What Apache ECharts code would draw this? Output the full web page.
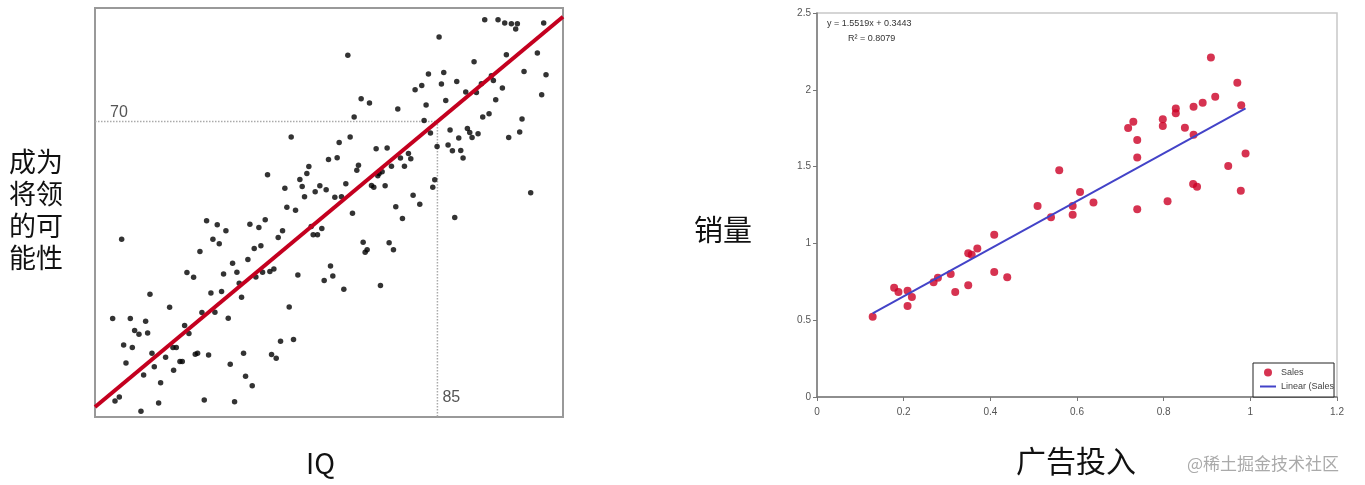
<!DOCTYPE html>
<html>
<head>
<meta charset="utf-8">
<script src="https://cdn.jsdelivr.net/npm/echarts@6/dist/echarts.min.js"></script>
<style>
  html, body { margin: 0; padding: 0; background: #fff; }
  #main { width: 1365px; height: 485px; }
</style>
</head>
<body>
<div id="main"></div>
<script>
// 左图：IQ 与 成为将领的可能性
const iqRange = [33.6, 103.85];
const probRange = [25.7, 87];
const refIQ = 85;
const refProb = 70;
const iqSlope = 0.8327; // 红色拟合线斜率，经过 (85, 70)

const iqPoints = [
  [92.1, 85.25], [94.1, 85.25], [95.1, 84.75], [96.1, 84.65], [97.0, 84.65], [96.75, 83.85],
  [100.95, 84.75], [85.25, 82.65], [71.55, 79.9], [95.35, 80.0], [100.0, 80.25], [90.5, 78.95],
  [83.65, 77.1], [85.95, 77.35], [98.0, 77.5], [101.3, 77.0], [85.6, 75.6], [87.9, 76.0],
  [82.65, 75.4], [81.65, 74.75], [91.6, 75.65], [93.4, 76.15], [93.1, 76.85], [94.75, 75.0],
  [89.25, 74.4], [90.85, 74.35], [100.65, 74.0], [86.25, 73.15], [83.3, 72.45], [93.75, 73.25],
  [73.55, 73.4], [74.8, 72.75], [79.05, 71.85], [72.5, 70.65], [83.0, 70.15], [91.8, 70.65],
  [92.75, 71.15], [97.7, 70.35], [86.9, 68.7], [89.5, 68.95], [89.85, 68.35], [91.1, 68.15],
  [90.2, 67.6], [88.2, 67.5], [95.7, 67.6], [97.35, 68.4], [83.95, 68.25], [63.05, 67.65],
  [71.9, 67.65], [70.25, 66.85], [84.95, 66.25], [86.6, 66.45], [87.25, 65.6], [88.5, 65.65],
  [88.85, 64.5], [75.8, 65.9], [77.45, 66.0], [80.65, 65.2], [81.0, 64.4], [79.45, 64.5],
  [80.05, 63.3], [78.1, 63.3], [68.65, 64.3], [69.95, 64.55], [65.7, 63.25], [65.4, 62.2],
  [64.35, 61.3], [64.7, 60.25], [59.5, 62.0], [62.1, 60.0], [67.35, 60.35], [66.65, 59.45],
  [68.3, 59.75], [71.25, 60.65], [73.15, 63.45], [72.9, 62.7], [76.25, 62.2], [76.7, 62.45],
  [76.05, 61.85], [75.1, 60.4], [75.45, 60.15], [77.15, 60.35], [84.6, 61.25], [84.3, 60.15],
  [99.0, 59.3], [65.05, 58.7], [69.6, 58.65], [70.6, 58.7], [81.35, 58.95],
  [62.4, 57.15], [63.7, 56.7], [78.75, 57.2], [82.35, 57.6], [72.25, 56.25], [87.6, 55.6],
  [79.75, 55.45], [37.6, 52.35], [50.35, 55.1], [51.95, 54.5], [53.25, 53.6], [56.85, 54.6],
  [58.2, 54.1], [59.15, 55.25], [49.35, 50.5], [51.3, 52.35], [52.25, 51.65], [57.5, 50.95],
  [58.5, 51.35], [56.55, 49.3], [61.1, 52.6], [61.75, 53.6], [66.05, 54.25], [66.35, 53.0],
  [67.0, 53.0], [67.65, 53.95], [73.85, 51.9], [74.15, 50.4], [74.45, 50.75], [77.75, 51.8],
  [78.4, 50.75], [54.25, 48.75], [54.9, 47.4], [52.9, 47.15], [47.4, 47.35], [48.4, 46.65],
  [41.85, 44.1], [44.8, 42.15], [51.0, 44.3], [52.6, 44.5], [55.25, 45.75], [55.6, 43.65],
  [57.75, 46.7], [58.75, 47.4], [59.85, 47.5], [60.45, 47.9], [64.05, 47.0], [68.95, 48.35],
  [69.3, 46.85], [68.0, 46.15], [70.95, 44.85], [76.45, 45.4], [62.75, 42.2], [49.65, 41.35],
  [51.6, 41.4], [53.6, 40.5], [36.25, 40.45], [38.9, 40.45], [41.2, 40.05], [39.55, 38.65],
  [40.2, 38.1], [41.5, 38.3], [37.9, 36.5], [39.2, 36.1], [42.15, 35.25], [44.2, 34.65],
  [45.3, 36.1], [45.8, 36.1], [47.05, 39.4], [47.7, 38.2], [38.25, 33.8], [42.5, 33.25],
  [40.9, 32.0], [45.4, 32.7], [46.35, 34.0], [46.7, 34.0], [48.65, 35.1], [49.0, 35.25],
  [50.65, 35.0], [53.9, 33.6], [55.9, 35.25], [60.1, 35.05], [60.8, 34.5], [61.45, 37.05],
  [63.4, 37.3], [43.45, 30.85], [56.2, 31.8], [57.2, 30.4], [36.6, 28.1], [37.25, 28.7],
  [40.5, 26.55], [43.15, 27.8], [50.0, 28.25], [54.55, 28.0]
];

// 右图：广告投入 与 销量
const adTicks = [0, 1.2, 0.2];
const salesTicks = [0, 2.5, 0.5];
const salesSlope = 1.5519;
const salesIntercept = 0.3443;
const salesR2 = 0.8079;

const salesPoints = [
  [0.1285, 0.523], [0.178, 0.712], [0.188, 0.684], [0.209, 0.692], [0.209, 0.592], [0.219, 0.651],
  [0.269, 0.747], [0.279, 0.777], [0.3085, 0.80], [0.319, 0.684], [0.349, 0.727], [0.349, 0.936],
  [0.357, 0.926], [0.370, 0.966], [0.409, 1.057], [0.409, 0.814], [0.439, 0.779], [0.509, 1.243],
  [0.540, 1.170], [0.590, 1.243], [0.590, 1.187], [0.559, 1.476], [0.607, 1.335], [0.638, 1.267],
  [0.909, 2.211], [0.970, 2.046], [0.919, 1.955], [0.979, 1.899], [0.890, 1.916], [0.869, 1.890],
  [0.828, 1.879], [0.828, 1.847], [0.798, 1.808], [0.798, 1.764], [0.849, 1.753], [0.869, 1.708],
  [0.730, 1.792], [0.718, 1.751], [0.739, 1.673], [0.739, 1.560], [0.989, 1.586], [0.949, 1.504],
  [0.868, 1.387], [0.877, 1.369], [0.978, 1.343], [0.809, 1.274], [0.739, 1.222]
];

const chart = echarts.init(document.getElementById("main"));

const iqFit = (x) => refProb + iqSlope * (x - refIQ);
const salesFit = (x) => salesSlope * x + salesIntercept;
const salesXs = salesPoints.map((p) => p[0]);
const salesFitX = [Math.min(...salesXs), Math.max(...salesXs)];

const cjk = "Noto Sans CJK SC";
const tickLabel = { color: "#555", fontSize: 10, fontFamily: "Liberation Sans", margin: 6 };

const option = {
  backgroundColor: "#fff",
  animation: false,
  grid: [
    { left: 95, top: 8, width: 468, height: 409, show: true, borderColor: "#999", borderWidth: 2 },
    { left: 817, top: 13, width: 520, height: 384, show: true, borderColor: "#c8c8c8", borderWidth: 1.5 },
  ],
  xAxis: [
    { gridIndex: 0, type: "value", min: iqRange[0], max: iqRange[1], show: false },
    {
      gridIndex: 1,
      type: "value",
      min: adTicks[0],
      max: adTicks[1],
      interval: adTicks[2],
      axisLine: { lineStyle: { color: "#777", width: 1.5 } },
      axisTick: { length: 4, lineStyle: { color: "#777" } },
      axisLabel: { ...tickLabel, margin: 10 },
      splitLine: { show: false },
    },
  ],
  yAxis: [
    { gridIndex: 0, type: "value", min: probRange[0], max: probRange[1], show: false },
    {
      gridIndex: 1,
      type: "value",
      min: salesTicks[0],
      max: salesTicks[1],
      interval: salesTicks[2],
      axisLine: { show: true, lineStyle: { color: "#777", width: 1.5 } },
      axisTick: { show: true, length: 4, lineStyle: { color: "#777" } },
      axisLabel: tickLabel,
      splitLine: { show: false },
    },
  ],
  legend: {
    data: [
      { name: "Sales", icon: "circle" },
      { name: "Linear (Sales)", itemStyle: { color: "rgba(0,0,0,0)", borderWidth: 0, opacity: 0 } },
    ],
    orient: "vertical",
    left: 1253,
    top: 363,
    itemWidth: 16,
    itemHeight: 8,
    itemGap: 5,
    padding: [5, 0, 6, 6],
    borderColor: "#222",
    borderWidth: 1,
    backgroundColor: "#fff",
    textStyle: { fontSize: 9, color: "#444", fontFamily: "Liberation Sans", width: 56, overflow: "truncate", ellipsis: "" },
  },
  series: [
    {
      type: "line",
      xAxisIndex: 0,
      yAxisIndex: 0,
      data: [[iqRange[0], refProb], [refIQ, refProb], [refIQ, probRange[0]]],
      symbol: "none",
      lineStyle: { color: "#aaa", width: 1.5, type: "dotted" },
      silent: true,
      z: 1,
    },
    {
      type: "scatter",
      xAxisIndex: 0,
      yAxisIndex: 0,
      data: iqPoints,
      symbolSize: 5.5,
      itemStyle: { color: "#000" },
      z: 2,
    },
    {
      type: "line",
      xAxisIndex: 0,
      yAxisIndex: 0,
      data: [[iqRange[0], iqFit(iqRange[0])], [iqRange[1], iqFit(iqRange[1])]],
      symbol: "none",
      lineStyle: { color: "#c4001f", width: 4 },
      z: 3,
    },
    {
      name: "Sales",
      type: "scatter",
      xAxisIndex: 1,
      yAxisIndex: 1,
      data: salesPoints,
      symbolSize: 8,
      itemStyle: { color: "#cc0026" },
      z: 3,
    },
    {
      name: "Linear (Sales)",
      type: "line",
      xAxisIndex: 1,
      yAxisIndex: 1,
      data: salesFitX.map((x) => [x, salesFit(x)]),
      symbol: "none",
      showSymbol: false,
      lineStyle: { color: "#4343c8", width: 2 },
      itemStyle: { color: "#4343c8" },
      z: 4,
    },
  ],
};
chart.setOption(option);

// 文字标注（参考线数值、公式、坐标轴标题）
const p70 = chart.convertToPixel({ gridIndex: 0 }, [iqRange[0], refProb]);
const p85 = chart.convertToPixel({ gridIndex: 0 }, [refIQ, probRange[0]]);
const pEq = chart.convertToPixel({ gridIndex: 1 }, [0, salesTicks[1]]);

chart.setOption({
  graphic: [
    { type: "text", left: p70[0] + 15, top: p70[1] - 17, style: { text: String(refProb), fontSize: 16, fill: "#555", fontFamily: "Liberation Sans" } },
    { type: "text", left: p85[0] + 5, top: p85[1] - 27, style: { text: String(refIQ), fontSize: 16, fill: "#555", fontFamily: "Liberation Sans" } },
    { type: "text", left: pEq[0] + 10, top: pEq[1] + 6, style: { text: "y = " + salesSlope + "x + " + salesIntercept, fontSize: 9, fill: "#333", fontFamily: "Liberation Sans" } },
    { type: "text", left: pEq[0] + 31, top: pEq[1] + 21, style: { text: "R² = " + salesR2, fontSize: 9, fill: "#333", fontFamily: "Liberation Sans" } },
    { type: "text", left: 9, top: 146, style: { text: "成为\n将领\n的可\n能性", fontSize: 27, lineHeight: 32, fill: "#111", fontFamily: cjk } },
    { type: "text", left: 306, top: 449, style: { text: "IQ", fontSize: 28, fill: "#111", fontFamily: cjk } },
    { type: "text", left: 694, top: 215, style: { text: "销量", fontSize: 29, fill: "#111", fontFamily: cjk } },
    { type: "text", left: 1016, top: 446, style: { text: "广告投入", fontSize: 30, fill: "#111", fontFamily: cjk } },
    { type: "text", left: 1187, top: 455, style: { text: "@稀土掘金技术社区", fontSize: 17, fill: "#aaa", fontFamily: cjk } },
  ],
});
</script>
</body>
</html>
